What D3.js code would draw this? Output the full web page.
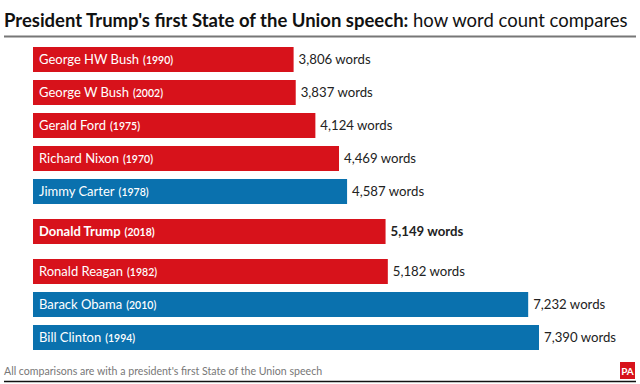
<!DOCTYPE html>
<html><head><meta charset="utf-8">
<script src="https://cdn.jsdelivr.net/npm/d3@7"></script>
<style>body{margin:0;background:#fff}svg{display:block}</style>
</head><body>
<script>
const names = ["George HW Bush","George W Bush","Gerald Ford","Richard Nixon","Jimmy Carter","Donald Trump","Ronald Reagan","Barack Obama","Bill Clinton"];
const years = ["1990","2002","1975","1970","1978","2018","1982","2010","1994"];
const words = [3806,3837,4124,4469,4587,5149,5182,7232,7390];
const parties = ["R","R","R","R","D","R","R","D","D"];
const highlight = "Donald Trump";

const W=640,H=384;
const FONT="Lato, 'Open Sans', sans-serif";
const svg=d3.select("body").append("svg").attr("width",W).attr("height",H);

const color=d3.scaleOrdinal().domain(["R","D"]).range(["#d7121b","#0a71ae"]);
const x=d3.scaleLinear().domain([0,d3.max(words)]).range([33,539]);
const hi=names.indexOf(highlight);
const y=d3.scaleBand().domain(d3.range(names.length)).range([47,336]).paddingInner(8/33).paddingOuter(0);
const extra=7;
const yPos=i=>y(i)+(i>=hi?extra:0)+(i>hi?extra:0);

// title
const t=svg.append("text").attr("x",4).attr("y",27).attr("font-family",FONT).attr("font-size",21).attr("fill","#111");
t.append("tspan").attr("font-weight",700).text("President Trump's first State of the Union speech:");
t.append("tspan").attr("font-weight",400).text(" how word count compares");
const tw=t.node().getComputedTextLength();
if(tw>624) t.attr("font-size",21*624/tw);
svg.append("line").attr("x1",4).attr("x2",636).attr("y1",36.5).attr("y2",36.5).attr("stroke","#777").attr("stroke-width",2);

const g=svg.append("g");
const rows=g.selectAll("g.row").data(names.map((n,i)=>({n,i,yr:years[i],v:words[i],p:parties[i]}))).join("g");
rows.append("rect").attr("x",x(0)).attr("y",d=>yPos(d.i)).attr("width",d=>x(d.v)-x(0)).attr("height",y.bandwidth()).attr("fill",d=>color(d.p));
const lbl=rows.append("text").attr("x",x(0)+6).attr("y",d=>yPos(d.i)+y.bandwidth()/2+4.5).attr("font-family",FONT).attr("fill","#fff")
  .attr("font-weight",d=>d.n===highlight?700:400);
lbl.append("tspan").attr("font-size",13).text(d=>d.n);
lbl.append("tspan").attr("font-size",10.5).attr("dx",4).attr("font-weight",d=>d.n===highlight?700:600).text(d=>"("+d.yr+")");
rows.append("text").attr("x",d=>x(d.v)+5).attr("y",d=>yPos(d.i)+y.bandwidth()/2+4.5).attr("font-family",FONT).attr("font-size",13.2)
  .attr("fill","#222").attr("font-weight",d=>d.n===highlight?700:400).text(d=>d3.format(",")(d.v)+" words");

// footer
svg.append("text").attr("x",4).attr("y",375).attr("font-family",FONT).attr("font-size",10.6).attr("fill","#777").text("All comparisons are with a president's first State of the Union speech");
svg.append("line").attr("x1",4).attr("x2",636).attr("y1",381.5).attr("y2",381.5).attr("stroke","#111").attr("stroke-width",1.5);
svg.append("rect").attr("x",620).attr("y",362).attr("width",15).attr("height",17).attr("fill","#d7121b");
svg.append("text").attr("x",627.5).attr("y",375).attr("text-anchor","middle").attr("font-family",FONT).attr("font-size",10).attr("font-weight",700).attr("fill","#fff").text("PA");
</script>
</body></html>
